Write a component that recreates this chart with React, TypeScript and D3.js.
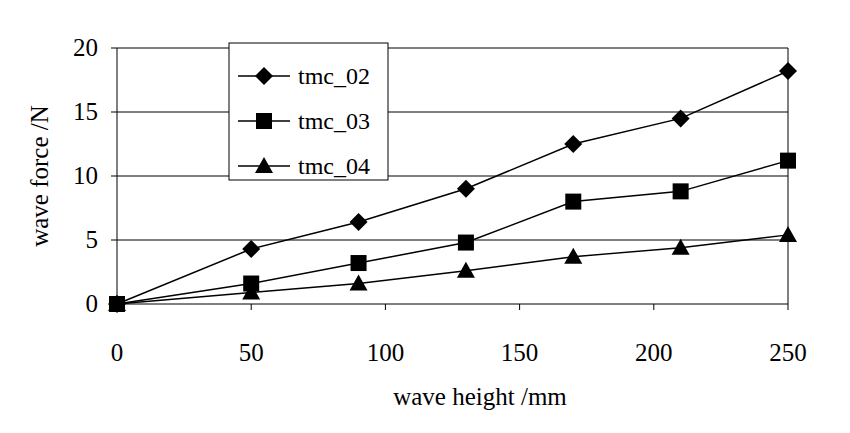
import * as d3 from 'd3';

const heights = [0, 50, 90, 130, 170, 210, 250];
const tmc02 = [0, 4.3, 6.4, 9.0, 12.5, 14.5, 18.2];
const tmc03 = [0, 1.6, 3.2, 4.8, 8.0, 8.8, 11.2];
const tmc04 = [0, 0.9, 1.6, 2.6, 3.7, 4.4, 5.4];
const seriesNames = ['tmc_02', 'tmc_03', 'tmc_04'];
const xTicks = [0, 50, 100, 150, 200, 250];
const yTicks = [0, 5, 10, 15, 20];

const font = '"Liberation Serif", "Times New Roman", serif';

function Marker({ kind, x, y }: { kind: number; x: number; y: number }) {
  if (kind === 0) return <path d={`M${x},${y - 9}L${x + 9},${y}L${x},${y + 9}L${x - 9},${y}Z`} fill="#000" />;
  if (kind === 1) return <rect x={x - 8} y={y - 8} width={16} height={16} fill="#000" />;
  return <path d={`M${x},${y - 9}L${x + 9},${y + 7}L${x - 9},${y + 7}Z`} fill="#000" />;
}

export default function App() {
  const x = d3.scaleLinear().domain([0, 250]).range([117, 788]);
  const y = d3.scaleLinear().domain([0, 20]).range([304, 48]);
  const all = [tmc02, tmc03, tmc04];
  const line = d3.line<number>().x((_, i) => x(heights[i])).y(d => y(d));
  return (
    <svg width={850} height={433} style={{ position: 'absolute', left: 0, top: 0, background: '#fff' }} fontFamily={font}>
      {yTicks.slice(1).map(t => (
        <line key={t} x1={117} x2={788} y1={y(t)} y2={y(t)} stroke="#000" strokeWidth={1} />
      ))}
      <line x1={788} x2={788} y1={48} y2={304} stroke="#000" />
      <line x1={117} x2={117} y1={48} y2={304} stroke="#000" />
      <line x1={117} x2={788} y1={304} y2={304} stroke="#000" />
      {yTicks.map(t => (
        <g key={t}>
          <line x1={111} x2={117} y1={y(t)} y2={y(t)} stroke="#000" />
          <text x={98} y={y(t) + 8} textAnchor="end" fontSize={25}>{t}</text>
        </g>
      ))}
      {xTicks.map(t => (
        <g key={t}>
          <line x1={x(t)} x2={x(t)} y1={304} y2={310} stroke="#000" />
          <text x={x(t)} y={361} textAnchor="middle" fontSize={25}>{t}</text>
        </g>
      ))}
      <text x={480} y={405} textAnchor="middle" fontSize={25}>wave height /mm</text>
      <text transform="translate(48,176) rotate(-90)" textAnchor="middle" fontSize={25}>wave force /N</text>
      {all.map((s, k) => (
        <g key={k}>
          <path d={line(s) || ''} fill="none" stroke="#000" strokeWidth={1.5} />
          {s.map((v, i) => <Marker key={i} kind={k} x={x(heights[i])} y={y(v)} />)}
        </g>
      ))}
      <rect x={229} y={43} width={159} height={137} fill="#fff" stroke="#000" />
      {seriesNames.map((n, k) => {
        const ly = 76 + k * 45;
        return (
          <g key={n}>
            <line x1={238} x2={290} y1={ly} y2={ly} stroke="#000" strokeWidth={1.5} />
            <Marker kind={k} x={264} y={ly} />
            <text x={298} y={ly + 8} fontSize={24}>{n}</text>
          </g>
        );
      })}
    </svg>
  );
}
